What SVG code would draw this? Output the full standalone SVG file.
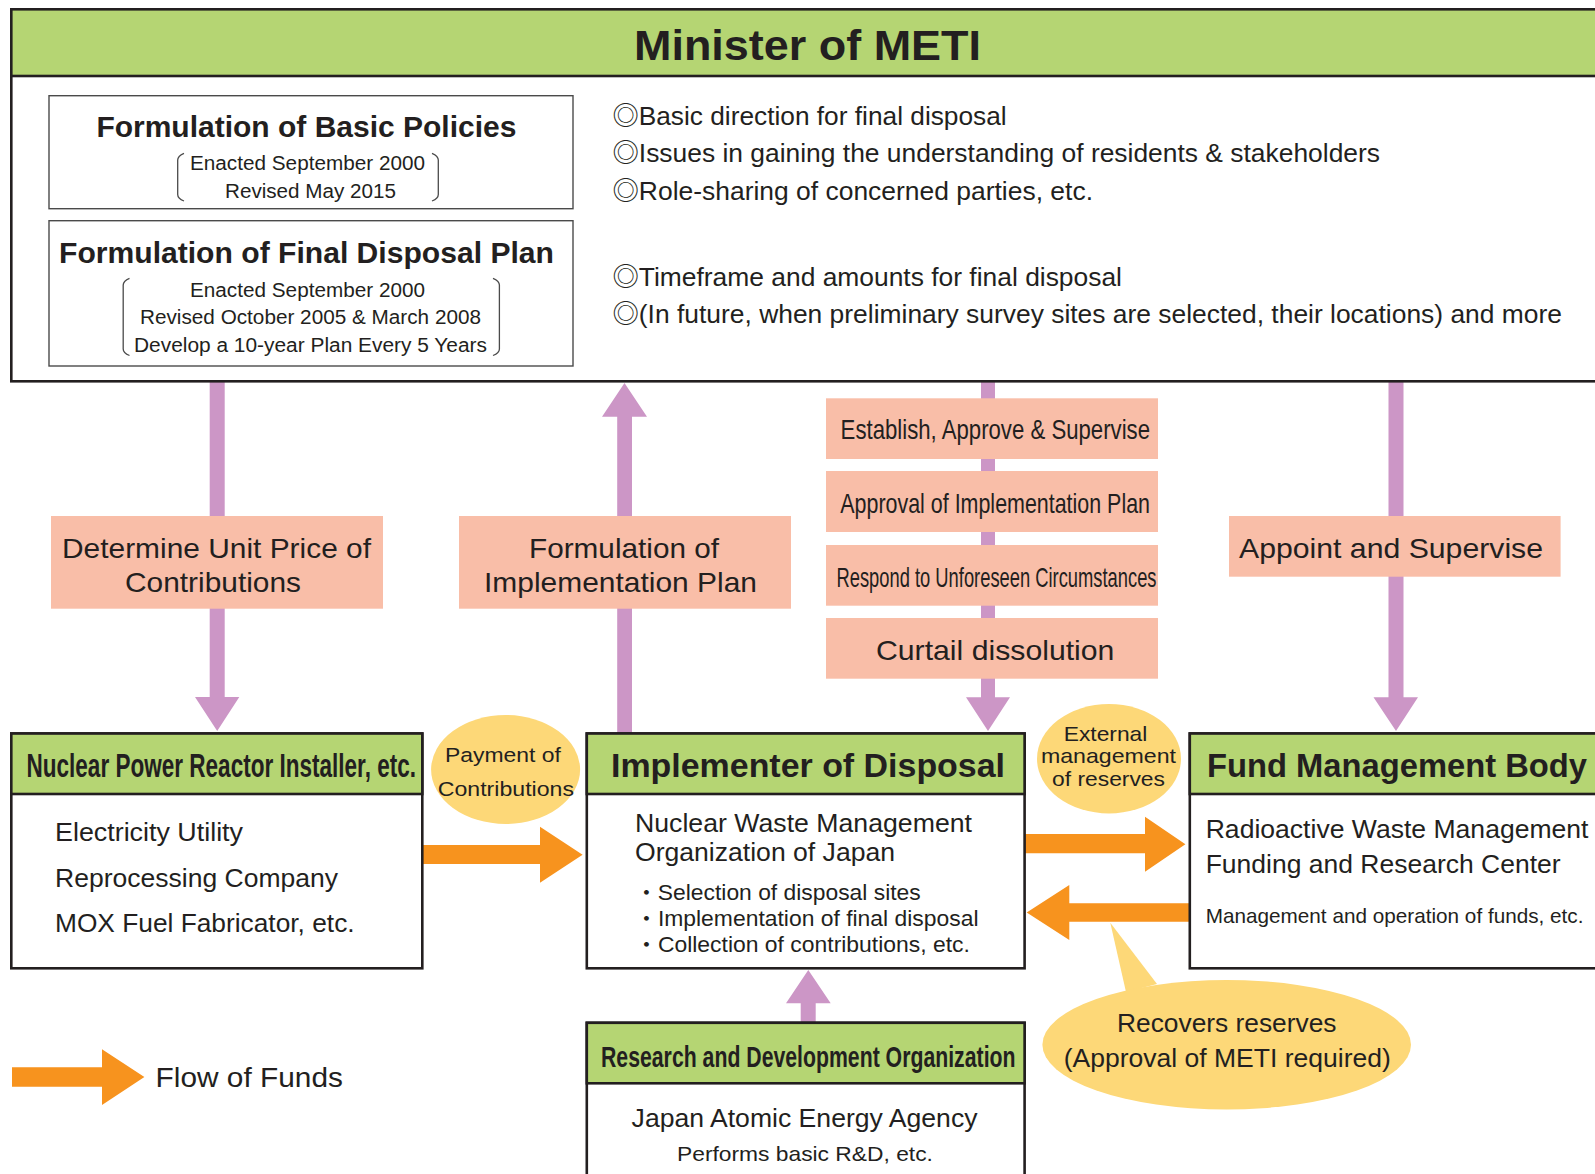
<svg xmlns="http://www.w3.org/2000/svg" width="1595" height="1174" viewBox="0 0 1595 1174">
<defs>
<style>
text{font-family:"Liberation Sans","Noto Sans CJK JP",sans-serif;fill:#231F20;}
.b{font-weight:bold;}
.box{fill:#fff;stroke:#231F20;stroke-width:2.6;}
.hdr{fill:#B5D573;stroke:#231F20;stroke-width:2.6;}
.thin{fill:#fff;stroke:#4a4a4a;stroke-width:1.4;}
.sal{fill:#F9BEA8;}
.pur{fill:#CC96C6;}
.org{fill:#F7931E;}
.yel{fill:#FDD878;}
.brk{fill:none;stroke:#4a4a4a;stroke-width:1.3;}
</style>
</defs>
<rect width="1595" height="1174" fill="#fff"/>

<!-- connectors -->
<g id="connectors">
  <path class="pur" d="M209.7 382 H224.7 V697 H239.3 L217.2 731 L195 697 H209.7 Z"/>
  <path class="pur" d="M617.2 733 V416.7 H602 L624.5 383 L647 416.7 H632 V733 Z"/>
  <path class="pur" d="M981 382 H995 V697.3 H1010 L988 731 L966 697.3 H981 Z"/>
  <path class="pur" d="M1388.5 382 H1403.5 V697.3 H1418 L1396 731 L1373.5 697.3 H1388.5 Z"/>
  <path class="pur" d="M800.7 1022 V1003.3 H786 L808.3 970 L830.7 1003.3 H815.7 V1022 Z"/>
  <path class="org" d="M422 845 H540 V826.7 L582.6 854.7 L540 882.7 V864 H422 Z"/>
  <path class="org" d="M1025 834 H1145 V816.7 L1185.4 844.2 L1145 871.7 V853.3 H1025 Z"/>
  <path class="org" d="M1190 903.3 H1069.3 V885 L1026.7 912.4 L1069.3 940 V921.7 H1190 Z"/>
</g>

<!-- METI -->
<g id="meti">
  <rect class="box" x="11.3" y="9.3" width="1610" height="372"/>
  <rect class="hdr" x="11.3" y="9.3" width="1610" height="66.7"/>
  <text class="b" x="634" y="60" font-size="43" textLength="347" lengthAdjust="spacingAndGlyphs">Minister of METI</text>
  <g id="basic-policies">
    <rect class="thin" x="49" y="95.7" width="524" height="113"/>
    <text class="b" x="96.4" y="136.7" font-size="30" textLength="420" lengthAdjust="spacingAndGlyphs">Formulation of Basic Policies</text>
    <text x="190" y="170" font-size="19.5" textLength="235" lengthAdjust="spacingAndGlyphs">Enacted September 2000</text>
    <text x="225" y="197.7" font-size="19.5" textLength="171" lengthAdjust="spacingAndGlyphs">Revised May 2015</text>
    <path class="brk" d="M184 153.3 Q177.7 156 177.7 160 V194.5 Q177.7 198.5 184 201"/>
    <path class="brk" d="M432 153.3 Q438.3 156 438.3 160 V194.5 Q438.3 198.5 432 201"/>
  </g>
  <g id="final-disposal-plan">
    <rect class="thin" x="49" y="220.7" width="524" height="145.3"/>
    <text class="b" x="59" y="263" font-size="30" textLength="495" lengthAdjust="spacingAndGlyphs">Formulation of Final Disposal Plan</text>
    <text x="190" y="296.7" font-size="19.5" textLength="235" lengthAdjust="spacingAndGlyphs">Enacted September 2000</text>
    <text x="140" y="324.3" font-size="19.5" textLength="341" lengthAdjust="spacingAndGlyphs">Revised October 2005 &amp; March 2008</text>
    <text x="134" y="352.3" font-size="19.5" textLength="353" lengthAdjust="spacingAndGlyphs">Develop a 10-year Plan Every 5 Years</text>
    <path class="brk" d="M129.5 278.3 Q123.2 281 123.2 285 V349 Q123.2 353 129.5 355.5"/>
    <path class="brk" d="M493 278.3 Q499.4 281 499.4 285 V349 Q499.4 353 493 355.5"/>
  </g>
  <text x="612.4" y="125" font-size="26" textLength="394.3" lengthAdjust="spacingAndGlyphs">◎Basic direction for final disposal</text>
  <text x="612.4" y="162.3" font-size="26" textLength="767.6" lengthAdjust="spacingAndGlyphs">◎Issues in gaining the understanding of residents &amp; stakeholders</text>
  <text x="612.4" y="200" font-size="26" textLength="480.6" lengthAdjust="spacingAndGlyphs">◎Role-sharing of concerned parties, etc.</text>
  <text x="612.4" y="286" font-size="26" textLength="509.6" lengthAdjust="spacingAndGlyphs">◎Timeframe and amounts for final disposal</text>
  <text x="612.4" y="322.7" font-size="26" textLength="949.6" lengthAdjust="spacingAndGlyphs">◎(In future, when preliminary survey sites are selected, their locations) and more</text>
</g>

<!-- salmon labels -->
<g id="label-unit-price">
  <rect class="sal" x="51" y="516" width="332" height="92.7"/>
  <text x="62" y="558.3" font-size="28" textLength="309" lengthAdjust="spacingAndGlyphs">Determine Unit Price of</text>
  <text x="125" y="591.7" font-size="28" textLength="176" lengthAdjust="spacingAndGlyphs">Contributions</text>
</g>
<g id="label-impl-plan">
  <rect class="sal" x="459" y="516" width="332" height="92.7"/>
  <text x="529" y="558.3" font-size="28" textLength="190" lengthAdjust="spacingAndGlyphs">Formulation of</text>
  <text x="484" y="591.7" font-size="28" textLength="273" lengthAdjust="spacingAndGlyphs">Implementation Plan</text>
</g>
<g id="label-establish">
  <rect class="sal" x="826" y="398.3" width="332" height="60.7"/>
  <text x="840.6" y="439.3" font-size="28" textLength="309.4" lengthAdjust="spacingAndGlyphs">Establish, Approve &amp; Supervise</text>
</g>
<g id="label-approval">
  <rect class="sal" x="826" y="471" width="332" height="61"/>
  <text x="840.3" y="513.3" font-size="28" textLength="309.7" lengthAdjust="spacingAndGlyphs">Approval of Implementation Plan</text>
</g>
<g id="label-respond">
  <rect class="sal" x="826" y="545" width="332" height="60.7"/>
  <text x="836.5" y="586.7" font-size="28" textLength="320" lengthAdjust="spacingAndGlyphs">Respond to Unforeseen Circumstances</text>
</g>
<g id="label-curtail">
  <rect class="sal" x="826" y="618" width="332" height="60.7"/>
  <text x="876" y="660" font-size="28" textLength="238.4" lengthAdjust="spacingAndGlyphs">Curtail dissolution</text>
</g>
<g id="label-appoint">
  <rect class="sal" x="1229" y="516" width="331.6" height="60.7"/>
  <text x="1239" y="558.3" font-size="28" textLength="304" lengthAdjust="spacingAndGlyphs">Appoint and Supervise</text>
</g>

<!-- Nuclear Power Reactor Installer -->
<g id="installer">
  <rect class="box" x="11.3" y="733.5" width="411" height="234.8"/>
  <rect class="hdr" x="11.3" y="733.5" width="411" height="60.5"/>
  <text class="b" x="26.5" y="777.3" font-size="33" textLength="389.5" lengthAdjust="spacingAndGlyphs">Nuclear Power Reactor Installer, etc.</text>
  <text x="55" y="840.7" font-size="26" textLength="188" lengthAdjust="spacingAndGlyphs">Electricity Utility</text>
  <text x="55" y="886.7" font-size="26" textLength="283" lengthAdjust="spacingAndGlyphs">Reprocessing Company</text>
  <text x="55" y="931.7" font-size="26" textLength="299.6" lengthAdjust="spacingAndGlyphs">MOX Fuel Fabricator, etc.</text>
</g>

<g id="payment">
  <ellipse class="yel" cx="505.6" cy="769.5" rx="74.5" ry="54.5"/>
  <text x="445" y="761.7" font-size="20.5" textLength="116" lengthAdjust="spacingAndGlyphs">Payment of</text>
  <text x="437.8" y="796" font-size="20.5" textLength="136.2" lengthAdjust="spacingAndGlyphs">Contributions</text>
</g>

<!-- Implementer -->
<g id="implementer">
  <rect class="box" x="586.8" y="733.5" width="437.8" height="234.8"/>
  <rect class="hdr" x="586.8" y="733.5" width="437.8" height="60.5"/>
  <text class="b" x="611" y="776.7" font-size="33" textLength="394" lengthAdjust="spacingAndGlyphs">Implementer of Disposal</text>
  <text x="635" y="831.7" font-size="26" textLength="337" lengthAdjust="spacingAndGlyphs">Nuclear Waste Management</text>
  <text x="635" y="860.7" font-size="26" textLength="260" lengthAdjust="spacingAndGlyphs">Organization of Japan</text>
  <text x="635" y="900" font-size="22" textLength="285.7" lengthAdjust="spacingAndGlyphs">・Selection of disposal sites</text>
  <text x="635" y="925.7" font-size="22" textLength="343.5" lengthAdjust="spacingAndGlyphs">・Implementation of final disposal</text>
  <text x="635" y="952.3" font-size="22" textLength="334.9" lengthAdjust="spacingAndGlyphs">・Collection of contributions, etc.</text>
</g>

<g id="external">
  <ellipse class="yel" cx="1109" cy="758.7" rx="72" ry="54.7"/>
  <text x="1063.7" y="740.7" font-size="21" textLength="83.7" lengthAdjust="spacingAndGlyphs">External</text>
  <text x="1040.9" y="762.7" font-size="21" textLength="135.1" lengthAdjust="spacingAndGlyphs">management</text>
  <text x="1052" y="786" font-size="21" textLength="113" lengthAdjust="spacingAndGlyphs">of reserves</text>
</g>

<!-- Fund Management Body -->
<g id="fund">
  <rect class="box" x="1189.8" y="733.5" width="430" height="234.8"/>
  <rect class="hdr" x="1189.8" y="733.5" width="430" height="60.5"/>
  <text class="b" x="1207" y="777.3" font-size="33" textLength="380" lengthAdjust="spacingAndGlyphs">Fund Management Body</text>
  <text x="1205.7" y="838.3" font-size="26" textLength="382.8" lengthAdjust="spacingAndGlyphs">Radioactive Waste Management</text>
  <text x="1205.7" y="872.7" font-size="26" textLength="354.9" lengthAdjust="spacingAndGlyphs">Funding and Research Center</text>
  <text x="1205.7" y="922.7" font-size="21" textLength="377.8" lengthAdjust="spacingAndGlyphs">Management and operation of funds, etc.</text>
</g>

<g id="recovers">
  <path class="yel" d="M1110.3 922.7 L1126 992 L1157 984 Z"/>
  <ellipse class="yel" cx="1226.7" cy="1044.7" rx="184.3" ry="64.7"/>
  <text x="1117" y="1031.7" font-size="25" textLength="219.5" lengthAdjust="spacingAndGlyphs">Recovers reserves</text>
  <text x="1063.7" y="1066.7" font-size="25" textLength="327.1" lengthAdjust="spacingAndGlyphs">(Approval of METI required)</text>
</g>

<!-- R&D -->
<g id="rnd">
  <rect class="box" x="586.8" y="1022.8" width="437.8" height="170"/>
  <rect class="hdr" x="586.8" y="1022.8" width="437.8" height="60.5"/>
  <text class="b" x="601" y="1066.7" font-size="30" textLength="414.5" lengthAdjust="spacingAndGlyphs">Research and Development Organization</text>
  <text x="631.6" y="1127.3" font-size="26" textLength="345.9" lengthAdjust="spacingAndGlyphs">Japan Atomic Energy Agency</text>
  <text x="677" y="1160.7" font-size="21" textLength="255.9" lengthAdjust="spacingAndGlyphs">Performs basic R&amp;D, etc.</text>
</g>

<!-- legend -->
<g id="legend">
  <path class="org" d="M12 1067.3 H102 V1049.3 L144.4 1077.1 L102 1105 V1086.7 H12 Z"/>
  <text x="155.6" y="1086.7" font-size="28" textLength="187.3" lengthAdjust="spacingAndGlyphs">Flow of Funds</text>
</g>
</svg>
